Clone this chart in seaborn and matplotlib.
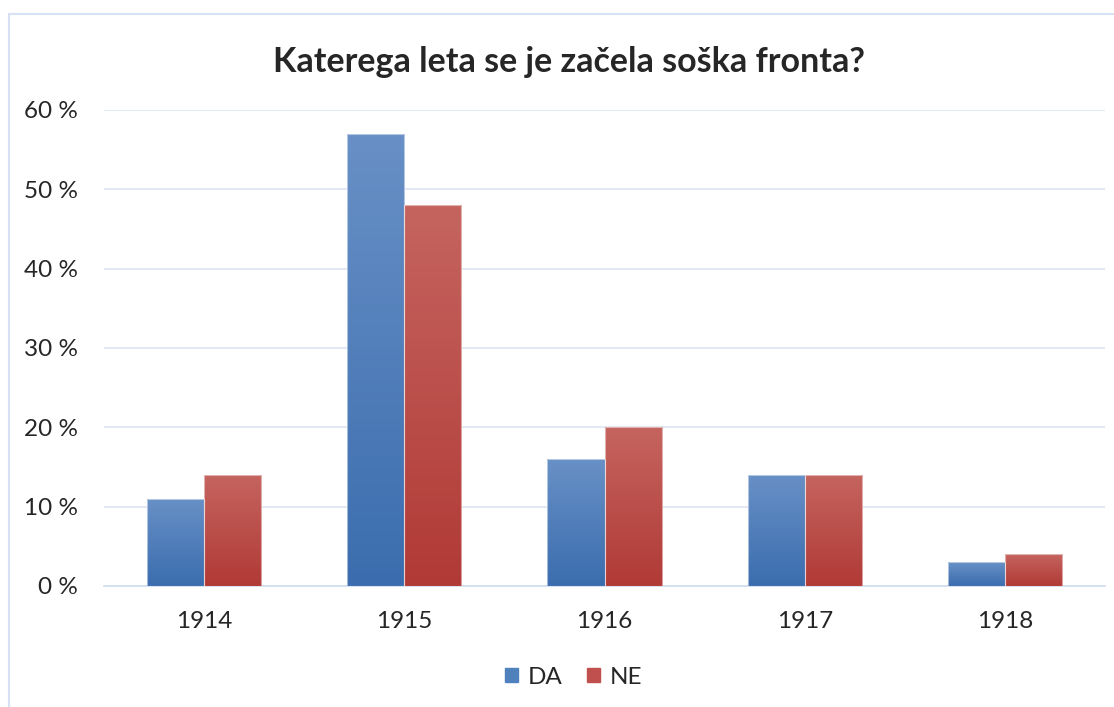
import numpy as np
import pandas as pd
import seaborn as sns
import matplotlib.pyplot as plt
from matplotlib.patches import Rectangle
from matplotlib.colors import LinearSegmentedColormap

years = ["1914", "1915", "1916", "1917", "1918"]
da = [11, 57, 16, 14, 3]
ne = [14, 48, 20, 14, 4]
series = ["DA", "NE"]
colors = {"DA": "#4F81BD", "NE": "#C0504D"}
grad = {"DA": ("#3B6DAE", "#6890C6"), "NE": ("#B13A36", "#C5645F")}

df = pd.DataFrame({"year": years * 2,
                   "value": da + ne,
                   "series": ["DA"] * len(years) + ["NE"] * len(years)})

sns.set_style("white")
plt.rcParams['font.family'] = ['Lato', 'DejaVu Sans']

fig = plt.figure(figsize=(11.14, 7.07), dpi=100)
ax = fig.add_axes([104 / 1114, 1 - 586 / 707, 1001 / 1114, 476 / 707])

sns.barplot(data=df, x="year", y="value", hue="series", palette=colors,
            width=0.57, ax=ax, legend=False, zorder=3)

# gradient fill for each bar, clipped to the bar itself
for bar, s in zip(ax.patches, ["DA"] * len(years) + ["NE"] * len(years)):
    x0, y0 = bar.get_x(), bar.get_y()
    w, h = bar.get_width(), bar.get_height()
    if h <= 0:
        continue
    cmap = LinearSegmentedColormap.from_list(s, grad[s])
    img = ax.imshow(np.linspace(0, 1, 100).reshape(-1, 1), cmap=cmap,
                    extent=[x0, x0 + w, y0, y0 + h], origin="lower",
                    aspect="auto", zorder=3.5)
    img.set_clip_path(bar)
    bar.set_edgecolor((1, 1, 1, 0.5))
    bar.set_linewidth(0.8)
    bar.set_zorder(4)
    bar.set_facecolor("none")

ax.set_xlim(-0.5, len(years) - 0.5)
ax.set_ylim(0, 60)
ax.set_yticks(range(0, 61, 10))
ax.set_yticklabels([f"{v} %" for v in range(0, 61, 10)], fontsize=17.5)
ax.tick_params(axis="x", labelsize=17.5, length=0, pad=18)
ax.tick_params(axis="y", length=0, pad=19)
ax.yaxis.grid(True, color="#DCE4EF", linewidth=1.2, zorder=0)
ax.set_axisbelow(True)
for side in ["top", "right", "left"]:
    ax.spines[side].set_visible(False)
ax.spines["bottom"].set_color("#D0DCEC")
ax.spines["bottom"].set_linewidth(1.2)
ax.set_xlabel("")
ax.set_ylabel("")

fig.text(0.511, 1 - 62 / 707, "Katerega leta se je začela soška fronta?",
         ha="center", va="center", fontsize=24.5, fontweight="bold")

handles = [Rectangle((0, 0), 1, 1, color=colors[s]) for s in series]
fig.legend(handles, series, loc="center", bbox_to_anchor=(0.515, 1 - 677 / 707),
           ncol=2, frameon=False, fontsize=17.5, handlelength=0.55,
           handleheight=0.55, handletextpad=0.4, columnspacing=1.0)

# outer chart frame
fig.patches.append(Rectangle((9 / 1114, -0.1), 1.2, 1 - 14 / 707 + 0.1,
                             transform=fig.transFigure, fill=False,
                             edgecolor="#D6E2F3", linewidth=1.5))

fig.savefig("out.png", dpi=100)
